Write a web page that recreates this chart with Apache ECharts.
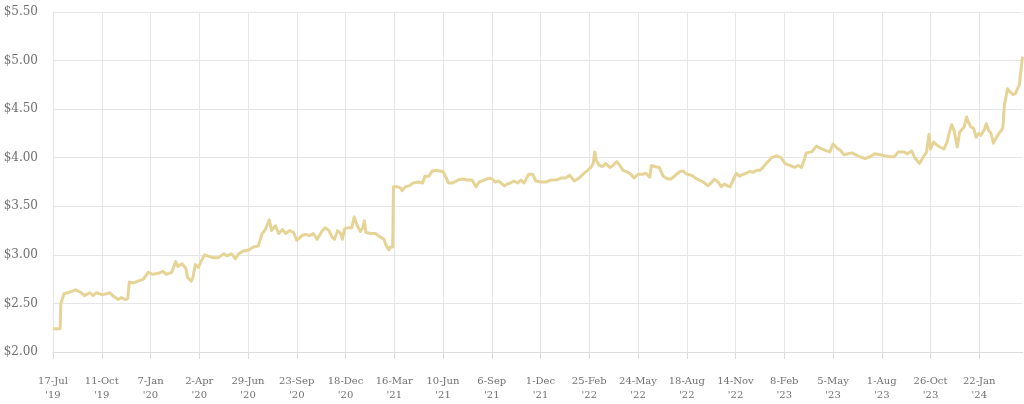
<!DOCTYPE html>
<html>
<head>
<meta charset="utf-8">
<script src="https://cdn.jsdelivr.net/npm/echarts@6/dist/echarts.min.js"></script>
<style>
html,body{margin:0;padding:0;background:#fff;}
#chart{width:1024px;height:404px;}
</style>
</head>
<body>
<div id="chart"></div>
<script>
// Tick labels (one every 62 trading days, starting 17-Jul-2019)
const tickDates = ['17-Jul','11-Oct','7-Jan','2-Apr','29-Jun','23-Sep','18-Dec','16-Mar','10-Jun','6-Sep','1-Dec','25-Feb','24-May','18-Aug','14-Nov','8-Feb','5-May','1-Aug','26-Oct','22-Jan'];
const tickYears = ["'19","'19","'20","'20","'20","'20","'20","'21","'21","'21","'21","'22","'22","'22","'22","'23","'23","'23","'23","'24"];
const tickStep = 62;
const lastDay = 1233;

// Trading-day index since 17-Jul-2019 and share price ($)
const tradingDay = [0,9,10,14,19,29,36,40,47,51,55,62,68,72,76,83,87,92,95,97,102,108,115,121,127,134,140,144,151,156,159,164,169,171,176,178,181,185,188,193,200,204,210,217,221,227,232,236,242,249,255,261,266,270,275,278,283,287,292,296,301,306,310,317,321,327,331,336,341,346,351,355,358,362,366,368,371,376,380,383,387,391,394,396,398,404,410,417,421,423,427,429,432,433,438,442,444,448,453,458,465,470,473,478,482,487,493,496,499,503,508,510,515,521,527,533,538,542,548,555,559,562,567,574,578,582,586,591,595,599,605,610,614,620,627,633,640,646,652,657,663,669,674,680,684,687,689,691,695,699,703,708,712,717,721,725,731,735,739,744,750,754,759,761,765,771,776,782,786,793,798,802,806,812,817,822,827,833,837,841,846,850,854,858,861,865,869,873,878,882,886,890,895,899,903,907,914,920,926,931,937,943,948,952,955,958,965,971,975,981,984,988,992,997,1001,1006,1011,1016,1021,1026,1033,1039,1045,1052,1058,1065,1070,1075,1082,1087,1092,1096,1102,1107,1111,1114,1116,1120,1124,1128,1133,1137,1140,1143,1146,1150,1153,1156,1159,1162,1164,1167,1171,1174,1177,1180,1184,1187,1190,1193,1196,1200,1203,1206,1208,1210,1212,1214,1217,1221,1224,1226,1229,1231,1233];
const price = [2.24,2.24,2.50,2.60,2.61,2.64,2.61,2.58,2.61,2.58,2.61,2.59,2.60,2.61,2.58,2.54,2.56,2.54,2.55,2.72,2.71,2.73,2.75,2.82,2.80,2.81,2.83,2.80,2.82,2.93,2.88,2.91,2.86,2.77,2.73,2.77,2.90,2.87,2.93,3.00,2.98,2.97,2.97,3.01,2.99,3.01,2.96,3.01,3.04,3.05,3.08,3.09,3.22,3.26,3.36,3.25,3.30,3.22,3.26,3.22,3.25,3.23,3.15,3.20,3.21,3.20,3.22,3.16,3.23,3.28,3.25,3.18,3.16,3.25,3.22,3.16,3.27,3.28,3.28,3.39,3.30,3.24,3.28,3.35,3.23,3.22,3.22,3.18,3.16,3.11,3.05,3.08,3.08,3.70,3.70,3.69,3.66,3.70,3.71,3.74,3.75,3.74,3.81,3.81,3.86,3.87,3.86,3.86,3.81,3.74,3.74,3.72,3.77,3.78,3.77,3.77,3.70,3.75,3.77,3.79,3.78,3.75,3.76,3.71,3.73,3.74,3.76,3.74,3.77,3.74,3.83,3.83,3.76,3.75,3.75,3.77,3.77,3.79,3.79,3.82,3.76,3.79,3.83,3.87,3.90,3.94,4.06,3.97,3.92,3.91,3.94,3.90,3.92,3.96,3.92,3.87,3.85,3.83,3.79,3.83,3.83,3.84,3.80,3.92,3.91,3.90,3.81,3.78,3.78,3.83,3.86,3.86,3.83,3.82,3.79,3.77,3.75,3.71,3.74,3.78,3.75,3.70,3.73,3.71,3.70,3.77,3.84,3.81,3.83,3.84,3.86,3.85,3.87,3.87,3.90,3.94,4.00,4.02,4.00,3.94,3.92,3.90,3.92,3.90,3.97,4.05,4.06,4.12,4.10,4.08,4.07,4.06,4.14,4.10,4.08,4.03,4.04,4.05,4.03,4.01,3.99,4.01,4.04,4.03,4.02,4.01,4.01,4.06,4.06,4.04,4.07,4.00,3.94,4.01,4.06,4.24,4.09,4.16,4.13,4.11,4.09,4.16,4.26,4.34,4.28,4.11,4.26,4.29,4.32,4.42,4.37,4.32,4.30,4.21,4.25,4.23,4.28,4.35,4.28,4.25,4.15,4.21,4.25,4.28,4.31,4.54,4.63,4.71,4.68,4.65,4.66,4.70,4.75,4.90,5.04];

const seriesData = tradingDay.map((d, i) => [d, price[i]]);

const chart = echarts.init(document.getElementById('chart'), null, {renderer: 'canvas'});
const gridColor = '#e6e6e6';
const labelColor = '#707070';
const fontFamily = 'DejaVu Serif';

chart.setOption({
  animation: false,
  backgroundColor: '#ffffff',
  grid: {left: 53, right: 1.5, top: 12, bottom: 52, containLabel: false},
  xAxis: {
    type: 'value',
    min: 0,
    max: lastDay,
    interval: tickStep,
    axisLine: {show: true, lineStyle: {color: '#dcdcdc', width: 1}},
    axisTick: {show: true, length: 7, lineStyle: {color: '#dcdcdc'}},
    splitLine: {show: true, showMaxLine: false, lineStyle: {color: gridColor, width: 1}},
    axisLabel: {
      showMaxLabel: false,
      margin: 22,
      color: labelColor,
      fontFamily: fontFamily,
      fontSize: 10,
      lineHeight: 14,
      formatter: function (v) {
        const i = Math.round(v / tickStep);
        if (v % tickStep !== 0 || i >= tickDates.length) return '';
        return tickDates[i] + '\n' + tickYears[i];
      }
    }
  },
  yAxis: {
    type: 'value',
    min: 2,
    max: 5.5,
    interval: 0.5,
    axisLine: {show: false},
    axisTick: {show: false},
    splitLine: {show: true, lineStyle: {color: gridColor, width: 1}},
    axisLabel: {
      margin: 15,
      color: labelColor,
      fontFamily: fontFamily,
      fontSize: 12,
      formatter: function (v) { return '$' + v.toFixed(2); }
    }
  },
  series: [{
    type: 'line',
    data: seriesData,
    showSymbol: false,
    symbol: 'none',
    lineStyle: {color: '#e6d497', width: 3, join: 'round'},
    itemStyle: {color: '#e6d497'}
  }]
});
</script>
</body>
</html>
